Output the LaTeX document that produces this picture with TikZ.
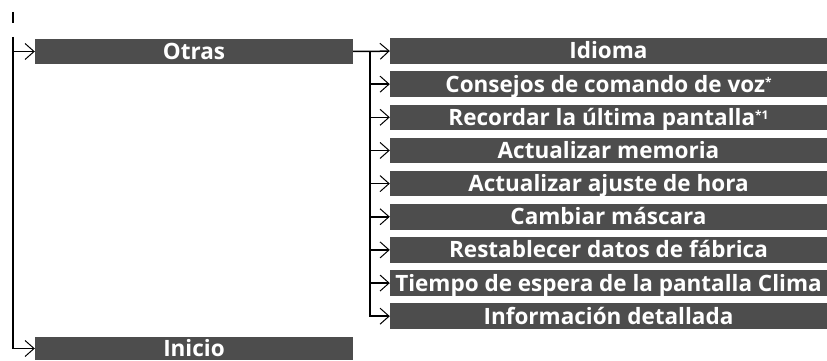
\documentclass[tikz,border=0pt]{standalone}
\usepackage{fontspec}
\setmainfont{Open Sans}
\usetikzlibrary{arrows.meta}
\definecolor{boxgray}{HTML}{4D4D4D}
\tikzset{
  menubox/.style={fill=boxgray, text=white, font=\fontsize{22.5}{22.5}\selectfont\bfseries, inner sep=0pt, minimum height=25.5pt, text height=16pt, text depth=0pt},
  leftbox/.style={menubox, minimum width=318pt},
  rightbox/.style={menubox, minimum width=437pt},
  wire/.style={line width=1.5pt},
  arr/.style={wire, -{Straight Barb[length=9pt,width=16pt,line width=1pt]}},
}
\newcommand{\sups}[1]{\raisebox{6pt}{\fontsize{12}{12}\selectfont #1}}
\begin{document}
\begin{tikzpicture}[x=1pt,y=-1pt]
\useasboundingbox (0,0) rectangle (827,361);
\node[leftbox] (otras) at (194,51.5) {Otras};
\node[leftbox, minimum height=23pt] (inicio) at (194,348.5) {Inicio};
\foreach \i/\t in {0/{Idioma},1/{Consejos de comando de voz\sups{*}},2/{Recordar la última pantalla\sups{*1}},3/{Actualizar memoria},4/{Actualizar ajuste de hora},5/{Cambiar máscara},6/{Restablecer datos de fábrica},7/{Tiempo de espera de la pantalla Clima},8/{Información detallada}}{
  \node[rightbox] (r\i) at (608.5,{51+33.15*\i}) {\t};
}
\coordinate (ticktop) at (13,12);
\coordinate (tickbot) at (13,23);
\coordinate (maintop) at (13,37);
\coordinate (bus) at (370,51.5);
\draw[wire] (ticktop) -- (tickbot);
\draw[arr] (maintop |- otras.west) -- (otras.west);
\draw[arr] (maintop) |- (inicio.west);
\draw[arr] (otras.east) -- (bus) -- (r0.west);
\foreach \i in {1,...,7}{
  \draw[arr] (bus |- r\i.west) -- (r\i.west);
}
\draw[arr] (bus) |- (r8.west);
\end{tikzpicture}
\end{document}
